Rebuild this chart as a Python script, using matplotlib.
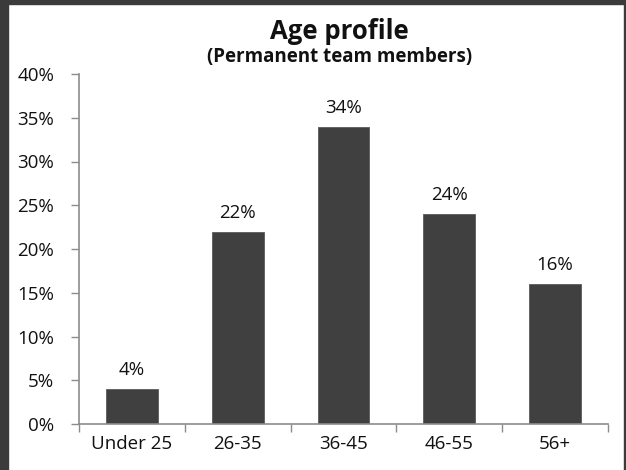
import matplotlib
matplotlib.use("Agg")
import matplotlib.pyplot as plt
from matplotlib.patches import Rectangle
from matplotlib.ticker import FixedLocator, PercentFormatter

categories = ["Under 25", "26-35", "36-45", "46-55", "56+"]
values = [4, 22, 34, 24, 16]
yticks = [0, 5, 10, 15, 20, 25, 30, 35, 40]
title = "Age profile"
subtitle = "(Permanent team members)"

plt.rcParams['font.family'] = ['Open Sans', 'DejaVu Sans']

W, H = 626, 470
fig = plt.figure(figsize=(W/100, H/100), dpi=100)
fig.patch.set_facecolor("white")
border = "#3b3b3b"
# dark frame
fig.patches.append(Rectangle((0, 0), 8/W, 1, transform=fig.transFigure, color=border, zorder=0))
fig.patches.append(Rectangle((0, 1-4/H), 1, 4/H, transform=fig.transFigure, color=border, zorder=0))
fig.patches.append(Rectangle((1-2/W, 0), 2/W, 1, transform=fig.transFigure, color=border, zorder=0))

ax = fig.add_axes([79/W, (H-424)/H, (608-79)/W, (424-74)/H])
x = list(range(len(categories)))
bars = ax.bar(x, values, width=0.49, color="#404040", edgecolor="#5a5a5a", linewidth=0.6)
for xi, v in zip(x, values):
    ax.annotate(f"{v}%", (xi, v), xytext=(0, 7), textcoords="offset points",
                ha="center", va="bottom", fontsize=13.5, color="#111111")

ax.set_xlim(-0.5, len(categories) - 0.5)
ax.set_ylim(0, 40)
ax.set_yticks(yticks)
ax.yaxis.set_major_formatter(PercentFormatter(decimals=0))
ax.set_xticks(x)
ax.set_xticklabels(categories)
ax.xaxis.set_minor_locator(FixedLocator([i - 0.5 for i in range(len(categories) + 1)]))
ax.tick_params(axis="x", which="major", length=0, pad=8, labelsize=13.5, labelcolor="#111111")
ax.tick_params(axis="x", which="minor", length=6, color="#8c8c8c", width=1)
ax.tick_params(axis="y", which="major", length=6, color="#8c8c8c", width=1, pad=12,
               labelsize=13.5, labelcolor="#111111")
for s in ["top", "right"]:
    ax.spines[s].set_visible(False)
for s in ["left", "bottom"]:
    ax.spines[s].set_color("#8c8c8c")
    ax.spines[s].set_linewidth(1.2)

fig.text(339/W, (H-39)/H, title, ha="center", va="baseline", fontsize=18.5, fontweight="bold", color="#111111")
fig.text(340/W, (H-62)/H, subtitle, ha="center", va="baseline", fontsize=13.5, fontweight="bold", color="#111111")

fig.savefig("out.png", dpi=100, facecolor="white")
